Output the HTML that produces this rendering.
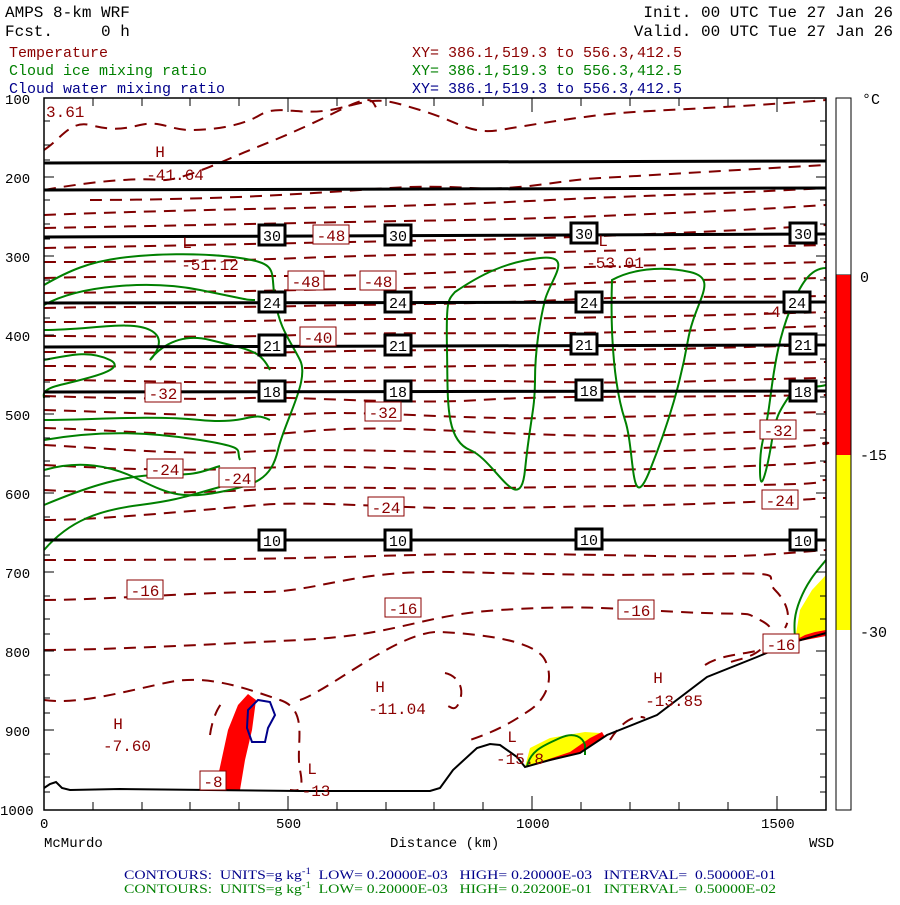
<!DOCTYPE html>
<html><head><meta charset="utf-8"><style>
body{margin:0;background:#fff;}
svg text{font-family:"Liberation Mono",monospace;white-space:pre;}
</style></head><body>
<svg width="900" height="900" xmlns="http://www.w3.org/2000/svg" xml:space="preserve">
<rect width="900" height="900" fill="#fff"/>
<g font-size="16">
<text x="5" y="17" fill="#000">AMPS 8-km WRF</text>
<text x="5" y="36" fill="#000">Fcst.     0 h</text>
<text x="893" y="17" fill="#000" text-anchor="end">Init. 00 UTC Tue 27 Jan 26</text>
<text x="893" y="36" fill="#000" text-anchor="end">Valid. 00 UTC Tue 27 Jan 26</text>
</g>
<g font-size="15">
<text x="9" y="57" fill="#8b0000">Temperature</text>
<text x="9" y="75" fill="#008000">Cloud ice mixing ratio</text>
<text x="9" y="93" fill="#00008b">Cloud water mixing ratio</text>
<text x="682" y="57" fill="#8b0000" text-anchor="end">XY= 386.1,519.3 to 556.3,412.5</text>
<text x="682" y="75" fill="#008000" text-anchor="end">XY= 386.1,519.3 to 556.3,412.5</text>
<text x="682" y="93" fill="#00008b" text-anchor="end">XY= 386.1,519.3 to 556.3,412.5</text>
</g>

<path d="M215,790 L228,730 L238,705 L248,694 L256,700 L252,730 L245,760 L240,790 Z" fill="#f00"/>
<path d="M525,767 L530,748 L550,738 L585,732 L600,733 L590,745 L570,756 L550,760 Z" fill="#ff0"/>
<path d="M540,762 L570,752 L590,738 L602,732 L605,737 L580,753 L550,761 Z" fill="#f00"/>
<path d="M795,640 L800,610 L812,590 L826,575 L826,632 L805,638 Z" fill="#ff0"/>
<path d="M790,643 L805,635 L815,632 L826,630 L826,636 Z" fill="#f00"/>
<path d="M248,710 L258,700 L270,702 L275,715 L268,728 L265,742 L252,742 L247,728 Z" fill="none" stroke="#00008b" stroke-width="2"/>

<g fill="none" stroke="#800000" stroke-width="2" stroke-dasharray="12,8">
<path d="M44,150 C60,140 70,120 90,125 S120,130 140,125 S170,130 190,130 S240,127 260,115 S300,118 340,108 S380,98 420,110 S470,135 500,130 S560,120 600,115 S700,110 826,100"/>
<path d="M44,190 C100,180 140,178 160,180 S230,158 250,150 S300,130 340,110 S370,105 380,112"/>
<path d="M90,200 C150,200 220,198 260,196 S330,192 360,190 S420,185 470,188 S560,180 600,178 S700,172 826,165"/>
<path d="M44,215 C120,212 200,210 300,208 S450,205 550,200 S700,195 826,188"/>
<path d="M44,228 C150,226 250,224 350,222 S500,220 600,216 S750,210 826,205"/>
<path d="M44,248 C150,246 250,244 350,242 S500,240 600,236 S750,230 826,225"/>
<path d="M44,262 C120,262 200,262 300,258 S450,255 560,252 S700,248 826,245"/>
<path d="M44,278 C120,276 220,276 300,276 S450,272 560,268 S700,265 826,262"/>
<path d="M44,293 C120,292 220,292 300,290 S450,288 560,284 S700,280 826,278"/>
<path d="M44,308 C120,306 220,308 300,306 S450,305 560,300 S700,298 826,296"/>
<path d="M44,322 C120,322 220,322 300,320 S450,320 560,318 S700,316 826,312"/>
<path d="M44,336 C120,336 220,338 300,335 S450,334 560,333 S700,330 826,326"/>
<path d="M44,352 C120,352 220,354 300,352 S450,350 560,350 S700,348 826,345"/>
<path d="M44,366 C120,366 220,368 300,368 S450,366 560,365 S700,364 826,362"/>
<path d="M44,380 C120,380 220,384 300,382 S450,380 560,382 S700,380 826,378"/>
<path d="M44,396 C100,398 200,400 250,398 S400,405 480,400 S650,398 826,395"/>
<path d="M44,410 C120,412 220,418 300,414 S450,420 560,418 S700,415 826,412"/>
<path d="M44,428 C120,430 220,440 300,432 S450,432 560,435 S700,432 826,430"/>
<path d="M44,445 C100,448 180,455 240,452 S350,450 450,452 S650,452 760,448 S810,440 826,445"/>
<path d="M44,465 C100,468 180,472 260,468 S400,470 500,470 S650,470 750,466 S800,462 826,462"/>
<path d="M44,490 C80,492 160,495 250,490 S400,490 500,488 S650,486 750,485 S810,480 826,480"/>
<path d="M44,520 C100,520 200,510 260,505 S400,510 500,508 S650,506 750,502 S810,498 826,498"/>
<path d="M44,560 C100,560 200,560 300,558 S450,552 600,555 S750,556 826,550"/>
<path d="M44,600 C100,600 200,592 260,592 S350,570 450,572 S600,576 700,574 S760,575 775,590 S790,620 785,628"/>
<path d="M44,650 C100,650 200,645 300,640 S420,615 500,610 S600,608 680,612 S740,610 760,620 S772,640 760,650 S730,660 725,665"/>
<path d="M44,700 C80,705 130,690 170,682 S250,690 280,700 S295,745 300,770 S296,790 290,790"/>
<path d="M300,700 C330,690 400,630 440,632 S535,640 545,660 S545,700 530,710 S500,730 470,740"/>
<path d="M445,673 C455,675 465,685 460,700 S450,705 445,705"/>
<path d="M210,735 C212,720 218,705 225,700"/>
<path d="M610,740 C625,716 640,715 645,718"/>
<path d="M705,665 C720,655 740,655 760,650"/>
</g>

<g fill="none" stroke="#008000" stroke-width="2">
<path d="M44,285 C70,270 90,262 120,258 S200,252 240,258 S270,270 275,300 S290,340 300,360 S285,420 278,450 S255,485 220,492 S170,495 140,480 S80,460 44,470"/>
<path d="M44,305 C80,285 150,280 200,290 S245,300 255,300"/>
<path d="M44,330 C90,330 130,320 150,330 S150,360 150,360 S170,330 210,340 S260,350 270,370"/>
<path d="M44,360 C70,355 90,350 110,360 S80,380 60,385 S44,395 44,398"/>
<path d="M44,420 C90,420 150,415 200,420 S250,410 270,420"/>
<path d="M44,440 C100,430 150,432 200,440 S235,450 240,460"/>
<path d="M44,505 C80,490 120,475 160,475 S200,472 220,466"/>
<path d="M44,550 C70,520 100,510 140,505 S190,495 220,487"/>
<path d="M455,292 C480,275 505,262 540,258 S550,280 545,300 S535,350 535,380 S530,420 525,470 S495,460 470,450 S448,400 447,350 S448,300 455,292 Z"/>
<path d="M612,280 C630,270 660,265 690,272 S695,300 688,340 S670,420 650,470 S635,450 625,420 S610,340 612,280 Z"/>
<path d="M826,268 C810,268 800,285 790,310 S775,360 770,400 S760,440 760,470 S768,465 772,440 S780,410 790,395 S810,390 826,385"/>
<path d="M826,560 C818,570 808,580 800,600 S795,630 795,640"/>
<path d="M527,767 C530,750 545,745 560,738 S583,738 585,745 L585,755"/>
</g>

<path d="M44,788 L50,784 L56,782 L62,788 L70,790 L120,789 L300,791 L430,791 L440,788 L453,770 L477,748 L490,744 L500,745 L517,757 L525,767 L550,760 L580,753 L607,735 L657,715 L707,677 L757,657 L790,643 L826,633" fill="none" stroke="#000" stroke-width="2"/>

<g stroke="#000" stroke-width="3">
<line x1="44" y1="163" x2="826" y2="161"/>
<line x1="44" y1="190" x2="826" y2="188"/>
<line x1="44" y1="237" x2="826" y2="234"/>
<line x1="44" y1="303" x2="826" y2="302"/>
<line x1="44" y1="347" x2="826" y2="345"/>
<line x1="44" y1="392" x2="826" y2="391"/>
<line x1="44" y1="540" x2="826" y2="540"/>
</g>
<g font-size="15" text-anchor="middle" fill="#000">
<g stroke="#000" stroke-width="3" fill="#fff">
<rect x="259" y="225" width="26" height="20"/><rect x="385" y="225" width="26" height="20"/><rect x="571" y="223" width="26" height="20"/><rect x="790" y="223" width="26" height="20"/>
<rect x="259" y="292" width="26" height="20"/><rect x="385" y="292" width="26" height="20"/><rect x="576" y="292" width="26" height="20"/><rect x="784" y="292" width="26" height="20"/>
<rect x="259" y="335" width="26" height="20"/><rect x="385" y="335" width="26" height="20"/><rect x="571" y="334" width="26" height="20"/><rect x="790" y="334" width="26" height="20"/>
<rect x="259" y="381" width="26" height="20"/><rect x="385" y="381" width="26" height="20"/><rect x="576" y="380" width="26" height="20"/><rect x="790" y="381" width="26" height="20"/>
<rect x="259" y="530" width="26" height="20"/><rect x="385" y="530" width="26" height="20"/><rect x="576" y="529" width="26" height="20"/><rect x="790" y="530" width="26" height="20"/>
</g>
<text x="272" y="241">30</text><text x="398" y="241">30</text><text x="584" y="239">30</text><text x="803" y="239">30</text>
<text x="272" y="308">24</text><text x="398" y="308">24</text><text x="589" y="308">24</text><text x="797" y="308">24</text>
<text x="272" y="351">21</text><text x="398" y="351">21</text><text x="584" y="350">21</text><text x="803" y="350">21</text>
<text x="272" y="397">18</text><text x="398" y="397">18</text><text x="589" y="396">18</text><text x="803" y="397">18</text>
<text x="272" y="546">10</text><text x="398" y="546">10</text><text x="589" y="545">10</text><text x="803" y="546">10</text>
</g>

<g font-size="16" fill="#8b0000" text-anchor="middle">
<g fill="#fff" stroke="#8b0000" stroke-width="1">
<rect x="313" y="225" width="36" height="19"/>
<rect x="288" y="271" width="36" height="19"/>
<rect x="360" y="271" width="36" height="19"/>
<rect x="300" y="327" width="36" height="19"/>
<rect x="145" y="383" width="36" height="19"/>
<rect x="365" y="402" width="36" height="19"/>
<rect x="760" y="420" width="36" height="19"/>
<rect x="147" y="459" width="36" height="19"/>
<rect x="219" y="468" width="36" height="19"/>
<rect x="368" y="497" width="36" height="19"/>
<rect x="762" y="490" width="36" height="19"/>
<rect x="127" y="580" width="36" height="19"/>
<rect x="385" y="598" width="36" height="19"/>
<rect x="618" y="600" width="36" height="19"/>
<rect x="763" y="634" width="36" height="19"/>
<rect x="200" y="771" width="26" height="19"/>
</g>
<text x="331" y="241">-48</text><text x="306" y="287">-48</text><text x="378" y="287">-48</text>
<text x="318" y="343">-40</text><text x="163" y="399">-32</text><text x="383" y="418">-32</text>
<text x="778" y="436">-32</text><text x="165" y="475">-24</text><text x="237" y="484">-24</text>
<text x="386" y="513">-24</text><text x="780" y="506">-24</text><text x="145" y="596">-16</text>
<text x="403" y="614">-16</text><text x="636" y="616">-16</text><text x="781" y="650">-16</text>
<text x="213" y="787">-8</text><text x="771" y="317">-4</text>
<text x="160" y="157">H</text><text x="175" y="180">-41.64</text>
<text x="187" y="248">L</text><text x="210" y="270">-51.12</text>
<text x="603" y="246">L</text><text x="615" y="268">-53.01</text>
<text x="380" y="692">H</text><text x="397" y="714">-11.04</text>
<text x="118" y="729">H</text><text x="127" y="751">-7.60</text>
<text x="312" y="774">L</text><text x="316" y="796">-13</text>
<text x="512" y="742">L</text><text x="520" y="764">-15.8</text>
<text x="658" y="683">H</text><text x="674" y="706">-13.85</text>
<text x="46" y="117" text-anchor="start">3.61</text>
</g>

<rect x="44" y="98" width="782" height="712" fill="none" stroke="#000" stroke-width="1.5"/>
<g stroke="#000" stroke-width="1">
<path d="M44,121h6M44,145h6M44,160h6M44,177h10M44,200h6M44,224h6M44,239h6M44,256h10M44,280h6M44,303h6M44,318h6M44,335h10M44,359h6M44,382h6M44,397h6M44,414h10M44,438h6M44,461h6M44,476h6M44,493h10M44,517h6M44,540h6M44,555h6M44,572h10M44,596h6M44,619h6M44,634h6M44,651h10M44,675h6M44,698h6M44,713h6M44,730h10M44,754h6M44,777h6M44,792h6"/>
<path d="M826,121h-6M826,145h-6M826,160h-6M826,177h-10M826,200h-6M826,224h-6M826,239h-6M826,256h-10M826,280h-6M826,303h-6M826,318h-6M826,335h-10M826,359h-6M826,382h-6M826,397h-6M826,414h-10M826,438h-6M826,461h-6M826,476h-6M826,493h-10M826,517h-6M826,540h-6M826,555h-6M826,572h-10M826,596h-6M826,619h-6M826,634h-6M826,651h-10M826,675h-6M826,698h-6M826,713h-6M826,730h-10M826,754h-6M826,777h-6M826,792h-6"/>
<path d="M93,810v-8M142,810v-8M190,810v-8M239,810v-8M288,810v-14M337,810v-8M386,810v-8M434,810v-8M483,810v-8M532,810v-14M581,810v-8M630,810v-8M679,810v-8M728,810v-8M777,810v-14"/>
<path d="M93,98v8M142,98v8M190,98v8M239,98v8M288,98v14M337,98v8M386,98v8M434,98v8M483,98v8M532,98v14M581,98v8M630,98v8M679,98v8M728,98v8M777,98v14"/>
</g>
<g font-size="14" fill="#000">
<text x="5" y="104">100</text><text x="5" y="183">200</text><text x="5" y="262">300</text><text x="5" y="341">400</text><text x="5" y="420">500</text><text x="5" y="499">600</text><text x="5" y="578">700</text><text x="5" y="657">800</text><text x="5" y="736">900</text><text x="0" y="815">1000</text>
<text x="40" y="828">0</text><text x="276" y="828">500</text><text x="516" y="828">1000</text><text x="761" y="828">1500</text>
<text x="44" y="847">McMurdo</text><text x="390" y="847">Distance (km)</text><text x="809" y="847">WSD</text>
</g>

<rect x="836" y="98" width="15" height="177" fill="#fff" stroke="#000"/>
<rect x="836" y="275" width="15" height="180" fill="#f00"/>
<rect x="836" y="455" width="15" height="175" fill="#ff0"/>
<rect x="836" y="98" width="15" height="712" fill="none" stroke="#000"/>
<g font-size="15" fill="#000">
<text x="862" y="104">°C</text><text x="860" y="282">0</text><text x="860" y="460">-15</text><text x="860" y="637">-30</text>
</g>

<text x="124" y="879" fill="#00008b" font-size="13" style="font-family:'Liberation Serif',serif" textLength="652" lengthAdjust="spacingAndGlyphs">CONTOURS:  UNITS=g kg<tspan dy="-5" font-size="9">-1</tspan><tspan dy="5">  LOW= 0.20000E-03   HIGH= 0.20000E-03   INTERVAL=  0.50000E-01</tspan></text>
<text x="124" y="893" fill="#008000" font-size="13" style="font-family:'Liberation Serif',serif" textLength="652" lengthAdjust="spacingAndGlyphs">CONTOURS:  UNITS=g kg<tspan dy="-5" font-size="9">-1</tspan><tspan dy="5">  LOW= 0.20000E-03   HIGH= 0.20200E-01   INTERVAL=  0.50000E-02</tspan></text>
</svg>
</body></html>
